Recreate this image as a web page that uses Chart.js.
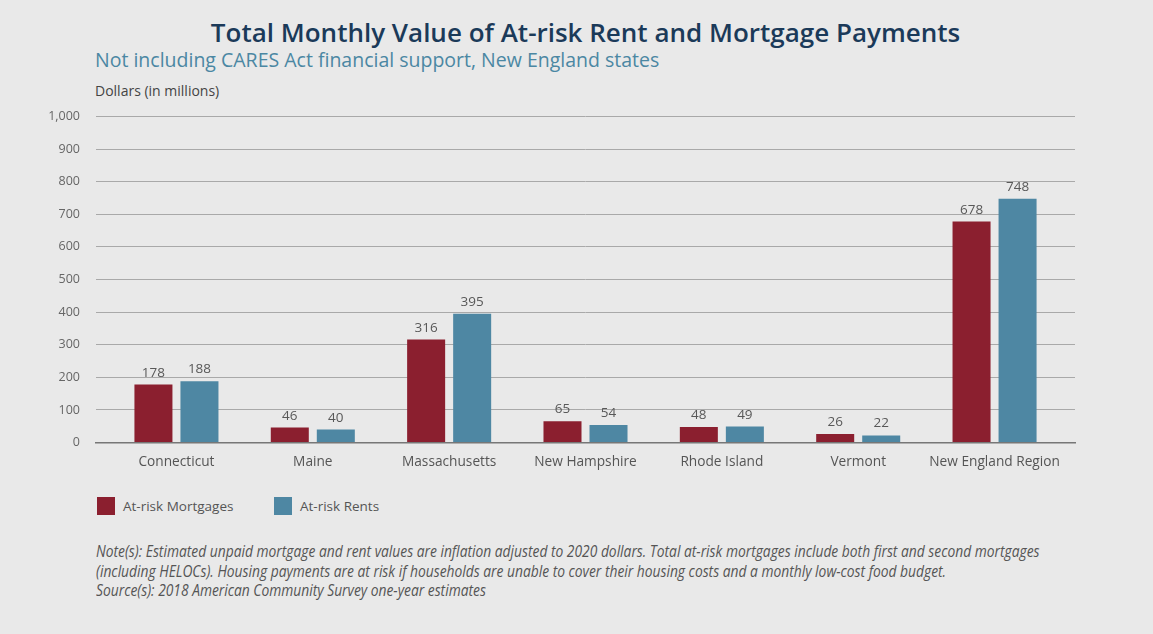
<!DOCTYPE html>
<html>
<head>
<meta charset="utf-8">
<script src="https://cdn.jsdelivr.net/npm/chart.js@4"></script>
<style>
  body { margin: 0; background: #e9e9e9; font-family: "Open Sans", sans-serif; }
  #wrap { position: relative; width: 1153px; height: 634px; overflow: hidden; }
  #titulo { position: absolute; top: 14px; left: 9px; width: 1153px; text-align: center;
            font-size: 26px; font-weight: 600; color: #1b3a59; }
  #subtitulo { position: absolute; top: 46px; left: 95px; font-size: 19.5px; color: #4b87a3; }
  #unidade { position: absolute; top: 81px; left: 95px; font-size: 14px; color: #444; }
  #grafico { position: absolute; top: 93px; left: 0; width: 1153px; height: 380px; }
  #legenda { position: absolute; top: 497px; left: 97px; font-size: 13.5px; color: #555; }
  #legenda span.item { position: absolute; white-space: nowrap; }
  #legenda i { display: inline-block; width: 18px; height: 18px; vertical-align: -4px; margin-right: 8px; }
  #notas { position: absolute; top: 542px; left: 96px; font-size: 16px; font-style: italic; color: #555;
           line-height: 19.5px; transform: scaleX(0.863); transform-origin: left top; white-space: nowrap; }
</style>
</head>
<body>
<div id="wrap">
  <div id="titulo">Total Monthly Value of At-risk Rent and Mortgage Payments</div>
  <div id="subtitulo">Not including CARES Act financial support, New England states</div>
  <div id="unidade">Dollars (in millions)</div>
  <div id="grafico"><canvas id="canvas"></canvas></div>
  <div id="legenda">
    <span class="item" style="left:0"><i style="background:#8b1f2f"></i>At-risk Mortgages</span>
    <span class="item" style="left:177px"><i style="background:#4e87a3"></i>At-risk Rents</span>
  </div>
  <div id="notas">
    Note(s): Estimated unpaid mortgage and rent values are inflation adjusted to 2020 dollars. Total at-risk mortgages include both first and second mortgages<br>
    (including HELOCs). Housing payments are at risk if households are unable to cover their housing costs and a monthly low-cost food budget.<br>
    Source(s): 2018 American Community Survey one-year estimates
  </div>
</div>
<script>
//--------------------------------------------------
// DADOS
//--------------------------------------------------

const estados = ['Connecticut', 'Maine', 'Massachusetts', 'New Hampshire',
                 'Rhode Island', 'Vermont', 'New England Region'];

const hipotecas = [178, 46, 316, 65, 48, 26, 678];
const alugueis  = [188, 40, 395, 54, 49, 22, 748];

const ticksY = [0, 100, 200, 300, 400, 500, 600, 700, 800, 900, 1000];

//--------------------------------------------------
// RÓTULOS ACIMA DAS BARRAS
//--------------------------------------------------

const rotulos = {
  id: 'rotulos',
  afterDatasetsDraw(chart) {
    const { ctx } = chart;
    ctx.save();
    ctx.font = '13.5px "Open Sans", sans-serif';
    ctx.fillStyle = '#585858';
    ctx.textAlign = 'center';
    ctx.textBaseline = 'bottom';
    chart.data.datasets.forEach((ds, i) => {
      chart.getDatasetMeta(i).data.forEach((bar, j) => {
        ctx.fillText(ds.data[j], bar.x, bar.y - 5);
      });
    });
    ctx.restore();
  }
};

//--------------------------------------------------
// GRÁFICO
//--------------------------------------------------

new Chart(document.getElementById('canvas'), {
  type: 'bar',
  data: {
    labels: estados,
    datasets: [
      { label: 'At-risk Mortgages', data: hipotecas, backgroundColor: '#8b1f2f' },
      { label: 'At-risk Rents',     data: alugueis,  backgroundColor: '#4e87a3' }
    ]
  },
  options: {
    responsive: true,
    maintainAspectRatio: false,
    animation: false,
    categoryPercentage: 0.675,
    barPercentage: 0.826,
    layout: { padding: { top: 3, right: 78, left: 0, bottom: 0 } },
    plugins: { legend: { display: false }, tooltip: { enabled: false } },
    scales: {
      x: {
        // margem extra nas pontas do eixo de categorias
        afterBuildTicks(scale) {
          scale._startValue -= 0.09;
          scale._valueRange += 0.18;
        },
        grid: { display: false },
        border: { color: '#777', width: 1.5 },
        ticks: { color: '#555', font: { family: 'Open Sans', size: 13.7 }, padding: 3 }
      },
      y: {
        min: 0,
        max: 1000,
        afterBuildTicks(scale) { scale.ticks = ticksY.map(v => ({ value: v })); },
        afterFit(scale) { scale.width = 96; },
        grid: { color: '#a9a9a9', drawTicks: false },
        border: { display: false },
        ticks: {
          color: '#666',
          padding: 16,
          font: { family: 'Open Sans', size: 12.5 },
          callback: v => v.toLocaleString('en-US')
        }
      }
    }
  },
  plugins: [rotulos]
});
</script>
</body>
</html>
